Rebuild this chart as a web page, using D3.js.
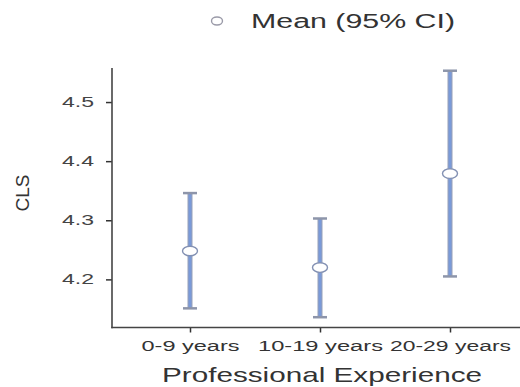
<!DOCTYPE html>
<html>
<head>
<meta charset="utf-8">
<script src="https://cdn.jsdelivr.net/npm/d3@7"></script>
<style>
  html, body { margin: 0; padding: 0; background: #fff; }
  svg { display: block; font-family: "Liberation Sans", Arial, sans-serif; }
</style>
</head>
<body>
<svg id="chart" width="520" height="387"></svg>
<script>
// Mean CLS score with 95% confidence interval, by years of professional experience
const categories = ["0-9 years", "10-19 years", "20-29 years"];
const means = [4.248, 4.220, 4.379];
const ciLower = [4.151, 4.136, 4.205];
const ciUpper = [4.346, 4.303, 4.553];
const yTicks = [4.2, 4.3, 4.4, 4.5];

const plot = { left: 112, right: 520, top: 68, bottom: 327.5 };

const svg = d3.select("#chart");

const x = d3.scalePoint().domain(categories).range([190, 450]);
const y = d3.scaleLinear().domain([4.1186, 4.5576]).range([plot.bottom, plot.top]);

// horizontally widened text helper
function wideText(g, str, width) {
  g.text(str)
    .attr("textLength", width)
    .attr("lengthAdjust", "spacingAndGlyphs");
  return g;
}

// Y axis
const yAxis = svg.append("g")
  .attr("transform", `translate(${plot.left},0)`)
  .call(d3.axisLeft(y).tickValues(yTicks).tickSize(6).tickPadding(12).tickFormat(d3.format(".1f")));
yAxis.select(".domain").remove();
yAxis.selectAll(".tick line").attr("stroke", "#333").attr("stroke-width", 1.5);
yAxis.selectAll(".tick text")
  .attr("fill", "#444")
  .style("font-size", "14px")
  .attr("textLength", 32)
  .attr("lengthAdjust", "spacingAndGlyphs");

svg.append("line")
  .attr("x1", plot.left).attr("x2", plot.left)
  .attr("y1", plot.top).attr("y2", plot.bottom + 0.75)
  .attr("stroke", "#444").attr("stroke-width", 1.6);

// X axis
const xAxis = svg.append("g")
  .attr("transform", `translate(0,${plot.bottom})`)
  .call(d3.axisBottom(x).tickSize(5).tickPadding(9));
xAxis.select(".domain").remove();
xAxis.selectAll(".tick line").attr("stroke", "#333").attr("stroke-width", 1.5);
const xLabelWidths = [98, 125, 121];
xAxis.selectAll(".tick text")
  .attr("fill", "#333")
  .style("font-size", "14px")
  .attr("textLength", (d, i) => xLabelWidths[i])
  .attr("lengthAdjust", "spacingAndGlyphs");

svg.append("line")
  .attr("x1", plot.left - 0.75).attr("x2", plot.right)
  .attr("y1", plot.bottom).attr("y2", plot.bottom)
  .attr("stroke", "#444").attr("stroke-width", 1.6);

// Axis titles
wideText(svg.append("text")
  .attr("x", 322).attr("y", 382)
  .attr("text-anchor", "middle")
  .attr("fill", "#333")
  .style("font-size", "21px"), "Professional Experience", 320);

wideText(svg.append("text")
  .attr("transform", "translate(29,193) rotate(-90)")
  .attr("text-anchor", "middle")
  .attr("fill", "#333")
  .style("font-size", "18px"), "CLS", 37);

// Error bars
const data = categories.map((c, i) => ({ c, m: means[i], lo: ciLower[i], hi: ciUpper[i] }));
const capW = 7;
const bars = svg.append("g").selectAll("g").data(data).join("g");

bars.append("line")
  .attr("x1", d => x(d.c)).attr("x2", d => x(d.c))
  .attr("y1", d => y(d.hi)).attr("y2", d => y(d.lo))
  .attr("stroke", "#97a0b8").attr("stroke-width", 5);
bars.append("line")
  .attr("x1", d => x(d.c)).attr("x2", d => x(d.c))
  .attr("y1", d => y(d.hi)).attr("y2", d => y(d.lo))
  .attr("stroke", "#7a9ad8").attr("stroke-width", 3);
bars.selectAll(".cap")
  .data(d => [d.hi, d.lo].map(v => ({ c: d.c, v })))
  .join("line")
  .attr("class", "cap")
  .attr("x1", d => x(d.c) - capW).attr("x2", d => x(d.c) + capW)
  .attr("y1", d => y(d.v)).attr("y2", d => y(d.v))
  .attr("stroke", "#8d95aa").attr("stroke-width", 2.5);

bars.append("ellipse")
  .attr("cx", d => x(d.c)).attr("cy", d => y(d.m))
  .attr("rx", 7.5).attr("ry", 4.8)
  .attr("fill", "#fff")
  .attr("stroke", "#8391b3").attr("stroke-width", 1.4);

// Legend
svg.append("ellipse")
  .attr("cx", 217).attr("cy", 21)
  .attr("rx", 5.5).attr("ry", 4)
  .attr("fill", "#fff")
  .attr("stroke", "#9a9aa8").attr("stroke-width", 1.4);
wideText(svg.append("text")
  .attr("x", 251).attr("y", 28)
  .attr("fill", "#333")
  .style("font-size", "20px"), "Mean (95% CI)", 204);
</script>
</body>
</html>
